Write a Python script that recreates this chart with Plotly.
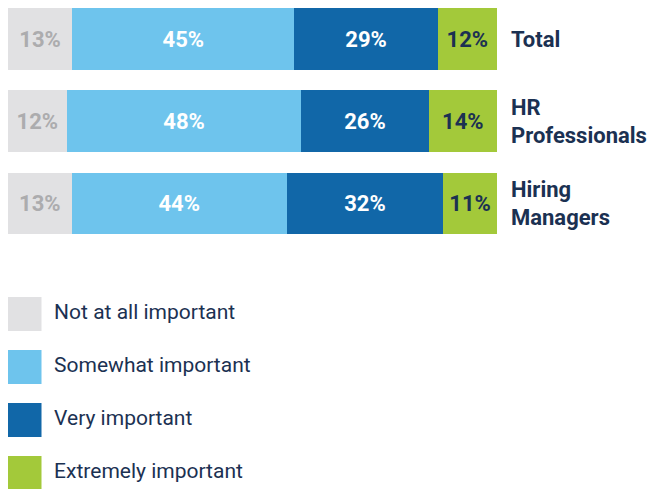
import plotly.graph_objects as go

groups = ["Total", "HR<br>Professionals", "Hiring<br>Managers"]
series = ["Not at all important", "Somewhat important", "Very important", "Extremely important"]
not_at_all = [13, 12, 13]
somewhat = [45, 48, 44]
very = [29, 26, 32]
extremely = [12, 14, 11]

values = [not_at_all, somewhat, very, extremely]
colors = ["#e1e1e3", "#6ec4ed", "#1167a8", "#a3c93a"]
text_colors = ["#acacae", "#ffffff", "#ffffff", "#1b3152"]
navy = "#1b3152"
font = "Roboto"

# the page body has an 8px margin, so the figure is 8px smaller each way
W, H = 647, 481

fig = go.Figure()

for name, vals, col, tcol in zip(series, values, colors, text_colors):
    fig.add_trace(go.Bar(
        y=groups, x=vals, name=name, orientation="h",
        marker=dict(color=col, line=dict(width=0)),
        text=[f"{v}%" for v in vals],
        textposition="inside", insidetextanchor="middle", textangle=0,
        insidetextfont=dict(family=font, size=22, color=tcol, weight="bold"),
        constraintext="none",
        showlegend=False, hoverinfo="skip",
    ))

# custom legend: big square markers on a second pair of axes
fig.add_trace(go.Scatter(
    x=[0] * len(series), y=series, xaxis="x2", yaxis="y2",
    mode="markers+text",
    marker=dict(symbol="square", size=34, color=colors, line=dict(width=0)),
    text=["\u00a0\u200a" + s for s in series], textposition="middle right",
    textfont=dict(family=font, size=21, color=navy),
    cliponaxis=False, showlegend=False, hoverinfo="skip",
))

fig.update_layout(
    width=W, height=H,
    margin=dict(l=0, r=0, t=0, b=0),
    paper_bgcolor="white", plot_bgcolor="white",
    barmode="stack", barnorm="percent", bargap=0.25,
    xaxis=dict(domain=[0, 489 / W], range=[0, 100], visible=False, fixedrange=True),
    yaxis=dict(domain=[1 - 240 / H, 1], range=[2.541, -0.377], side="right",
               showgrid=False, zeroline=False, showline=False, ticks="",
               ticklabelstandoff=13,
               tickfont=dict(family=font, size=22, color=navy, weight="bold")),
    xaxis2=dict(domain=[16.5 / W, 1], range=[0, 1], visible=False, anchor="y2"),
    yaxis2=dict(domain=[0, 1 - 289 / H], range=[3.30, -0.32], visible=False,
                anchor="x2", type="category"),
)

fig.write_html("out.html")
